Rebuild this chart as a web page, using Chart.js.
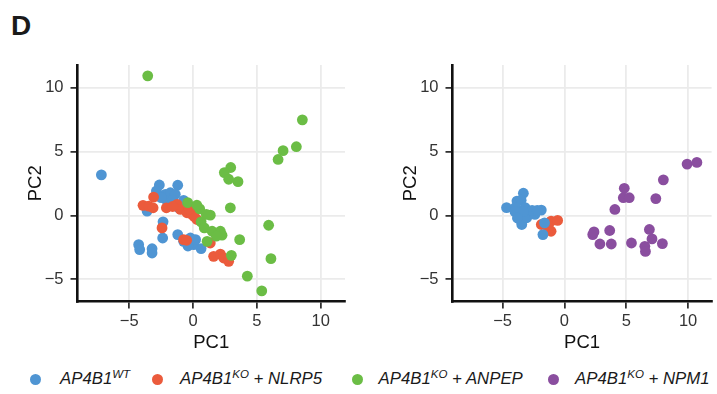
<!DOCTYPE html>
<html>
<head>
<meta charset="utf-8">
<script src="https://cdn.jsdelivr.net/npm/chart.js@4/dist/chart.umd.min.js"></script>
<style>
  body { margin: 0; background: #fff; width: 717px; height: 394px; overflow: hidden; position: relative; font-family: "Liberation Sans", Arial, sans-serif; }
  canvas { position: absolute; top: 0; }
  #panel { position: absolute; left: 11px; top: 10px; font-weight: bold; font-size: 28px; color: #1a1a1a; }
  .dot { position: absolute; top: 373.5px; width: 11px; height: 11px; border-radius: 50%; }
  .lab { position: absolute; top: 369px; font-style: italic; font-size: 16.8px; color: #1a1a1a; white-space: nowrap; }
  .lab sup { font-size: 11.5px; vertical-align: 0; position: relative; top: -6px; }
</style>
</head>
<body>
<div id="panel">D</div>
<canvas id="left" width="360" height="360" style="left:0px"></canvas>
<canvas id="right" width="342" height="360" style="left:375px"></canvas>

<div class="dot" style="left:30px;background:#4F95D3"></div>
<div class="lab" style="left:60px">AP4B1<sup>WT</sup></div>
<div class="dot" style="left:151.5px;background:#EB5B3C"></div>
<div class="lab" style="left:180px">AP4B1<sup>KO</sup> + NLRP5</div>
<div class="dot" style="left:351.5px;background:#6BBD45"></div>
<div class="lab" style="left:378.5px">AP4B1<sup>KO</sup> + ANPEP</div>
<div class="dot" style="left:548px;background:#8A4E9F"></div>
<div class="lab" style="left:575px">AP4B1<sup>KO</sup> + NPM1</div>

<script>
// ticks shared by both panels
var xTickVals = [-5, 0, 5, 10];
var yTickVals = [-5, 0, 5, 10];

// colours of the groups
var colWT = '#4F95D3';
var colNLRP5 = '#EB5B3C';
var colANPEP = '#6BBD45';
var colNPM1 = '#8A4E9F';

// left panel: WT, NLRP5, ANPEP  [PC1, PC2]
var leftWT = [[-7.18,3.18],[-2.64,2.39],[-1.2,2.37],[-2.87,1.92],[-2.17,1.66],[-1.78,1.78],[-1.39,1.66],
  [-2.04,1.13],[-2.5,1.4],[-1.6,1.2],[-3.34,0.6],[-3.6,0.34],[-0.74,1.18],[-1.13,0.6],[-2.35,-0.5],
  [-2.38,-1.77],[-4.26,-2.29],[-4.18,-2.68],[-3.21,-2.61],[-3.21,-2.95],[-1.2,-1.5],[-0.74,-2.03],
  [-0.21,-1.77],[0.05,-2.29],[0.63,-2.6],[-0.34,-2.16],[0.2,-1.9],[-0.4,-2.4]];
var leftNLRP5 = [[-3.09,1.44],[-3.92,0.79],[-3.48,0.73],[-3.13,0.6],[-2.09,0.6],[-1.25,0.87],[-0.99,0.47],
  [-0.47,0.21],[-0.08,0.08],[0.31,-0.32],[0.1,-0.1],[-0.3,0.5],[-1.6,0.7],[-2.43,-0.98],[-0.74,-1.9],
  [1.35,-2.16],[1.61,-3.21],[2.14,-3.03],[2.4,-3.34],[2.79,-3.6],[-0.5,-1.95]];
var leftANPEP = [[-3.55,10.95],[8.56,7.5],[8.09,5.39],[7.05,5.08],[6.66,4.39],[2.95,3.76],[2.45,3.36],
  [2.79,2.84],[3.52,2.65],[2.92,0.6],[5.92,-0.77],[6.1,-3.39],[3.65,-1.9],[4.25,-4.76],[5.38,-5.92],
  [3.0,-3.13],[-0.42,1.0],[0.52,0.52],[1.35,0.02],[1.04,0.08],[0.63,-0.5],[0.88,-0.98],[1.49,-1.24],
  [2.14,-1.24],[2.27,-1.55],[1.82,-1.63],[1.1,-2.03],[0.3,0.8]];

// right panel: WT, NLRP5, NPM1
var rightWT = [[-4.68,0.61],[-3.32,1.74],[-3.84,1.13],[-3.5,1.2],[-3.97,0.61],[-3.18,0.61],[-3.71,0.08],
  [-3.58,-0.32],[-3.45,-0.71],[-3.05,-0.18],[-2.39,0.08],[-2.61,0.39],[-1.87,0.42],[-1.61,-0.58],
  [-1.74,-1.5],[-4.0,0.3],[-3.3,0.3],[-3.8,-0.2],[-2.2,0.4]];
var rightNLRP5 = [[-1.08,-0.45],[-0.55,-0.39],[-1.08,-1.24],[-1.87,-0.71],[-1.34,-0.71],[-1.3,-1.0]];
var rightNPM1 = [[9.92,4.03],[10.71,4.16],[8.0,2.79],[7.39,1.32],[4.84,2.13],[4.76,1.39],[5.24,1.39],
  [4.08,0.47],[2.29,-1.5],[2.39,-1.29],[2.87,-2.24],[3.66,-1.18],[3.79,-2.24],[5.42,-2.16],[6.87,-1.1],
  [7.08,-1.84],[6.5,-2.42],[6.55,-2.82],[7.92,-2.21]];


function toPoints(arr) {
    return arr.map(function(p) { return {x: p[0], y: p[1]}; });
}

function ds(arr, color, order) {
    return {
        data: toPoints(arr),
        backgroundColor: color,
        borderWidth: 0,
        pointRadius: 5.4,
        pointHoverRadius: 5.4,
        order: order
    };
}

function fmt(v) {
    return v < 0 ? '\u2212' + Math.abs(v) : String(v);
}

var font = 'Liberation Sans';

function axis(isX, ticksVals, min, max, titleText, canvasH) {
    return {
        type: 'linear',
        min: min,
        max: max,
        afterBuildTicks: function(a) {
            a.ticks = ticksVals.map(function(v) { return {value: v}; });
        },
        afterFit: function(a) {
            if (isX) a.height = canvasH - 301.5;
            else a.width = 77.5;
        },
        grid: {
            color: '#ebebeb',
            lineWidth: 1.8,
            tickColor: '#1a1a1a',
            tickWidth: 1.6,
            tickLength: 7
        },
        border: { color: '#111', width: 2.6 },
        ticks: {
            color: '#333',
            font: { family: font, size: 16.5 },
            padding: isX ? 3 : 7,
            maxRotation: 0,
            callback: fmt
        },
        title: {
            display: true,
            text: titleText,
            color: '#111',
            font: { family: font, size: 18.5 },
            padding: isX ? { top: 0, bottom: 6 } : { top: 25, bottom: 0 }
        }
    };
}

function makeChart(id, datasets, rightPad) {
    var c = document.getElementById(id);
    return new Chart(c, {
        type: 'scatter',
        data: { datasets: datasets },
        options: {
            responsive: false,
            animation: false,
            devicePixelRatio: 1,
            layout: { padding: { top: 65, right: rightPad, left: 0, bottom: 0 } },
            plugins: { legend: { display: false }, tooltip: { enabled: false } },
            scales: {
                x: axis(true, xTickVals, -9.05, 11.9, 'PC1', c.height),
                y: axis(false, yTickVals, -6.75, 11.8, 'PC2', c.height)
            }
        }
    });
}

makeChart('left', [
    ds(leftWT, colWT, 3),
    ds(leftNLRP5, colNLRP5, 2),
    ds(leftANPEP, colANPEP, 1)
], 15);

makeChart('right', [
    ds(rightNLRP5, colNLRP5, 3),
    ds(rightWT, colWT, 2),
    ds(rightNPM1, colNPM1, 1)
], 0);
</script>
</body>
</html>
